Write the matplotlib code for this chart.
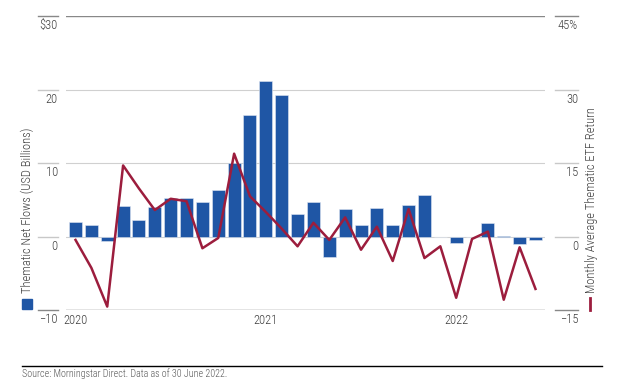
import numpy as np
import matplotlib.pyplot as plt
import matplotlib.transforms as mtransforms
from matplotlib.lines import Line2D
from matplotlib.patches import Rectangle

plt.rcParams['font.family'] = ['Roboto Condensed', 'Archivo Narrow', 'DejaVu Sans']
plt.rcParams['font.weight'] = 'light'

# Данные: январь 2020 - июнь 2022
months = list(range(30))
flows = [1.95, 1.5, -0.6, 4.2, 2.2, 4.0, 5.3, 5.2, 4.7, 6.35,
         10.0, 16.5, 21.2, 19.2, 3.1, 4.75, -2.8, 3.7, 1.5, 3.85,
         1.5, 4.35, 5.7, 0.0, -0.9, 0.0, 1.85, 0.1, -1.0, -0.5]
returns = [-0.7, -6.4, -14.3, 14.5, 9.8, 5.4, 7.7, 7.2, -2.4, -0.3,
           16.9, 8.2, 5.0, 1.6, -2.0, 2.8, -0.7, 3.9, -2.7, 2.0,
           -5.0, 5.6, -4.4, -2.0, -12.5, -0.5, 1.0, -12.9, -2.2, -10.7]
year_pos = [0, 12, 24]
year_labels = ['2020', '2021', '2022']
left_ticks = [30, 20, 10, 0, -10]
left_labels = ['$30', '20', '10', '0', '\u221210']
right_ticks = [45, 30, 15, 0, -15]
right_labels = ['45%', '30', '15', '0', '\u221215']

blue = '#1f56a5'
red = '#9c1d3d'
txt = '#3f3f3f'

W, H = 626, 388
fig = plt.figure(figsize=(W / 100, H / 100), dpi=100)
ax = fig.add_axes([66 / W, 1 - 310 / H, (545 - 66) / W, (310 - 16) / H])
ax.set_xlim(-0.6, 29.6)
ax.set_ylim(-10, 30)

# сетка
for v in [20, 10, 0]:
    ax.axhline(v, color='#d0d0d0', lw=0.8, zorder=0)
ax.axhline(30, color='#888888', lw=1.0, zorder=0)
ax.axhline(-10, color='#777777', lw=1.0, zorder=0)

ax.bar(months, flows, width=0.82, color=blue, edgecolor='#dfe7f2', lw=0.4, zorder=2)

ax2 = ax.twinx()
ax2.set_ylim(-15, 45)
ax2.plot(months, returns, color=red, lw=1.8, zorder=3)

for a in (ax, ax2):
    a.set_xticks([])
    a.set_yticks([])
    for s in a.spines.values():
        s.set_visible(False)

# ручные подписи осей
tl = mtransforms.blended_transform_factory(ax.transAxes, ax.transData)
for v, lab in zip(left_ticks, left_labels):
    c = '#888888' if v in (30, -10) else '#c8c8c8'
    ax.add_line(Line2D([-0.058, -0.017], [v, v], transform=tl, color=c, lw=1.0, clip_on=False))
    ax.annotate(lab, xy=(-0.017, v), xycoords=tl, xytext=(0, -2.5), textcoords='offset points',
                ha='right', va='top', fontsize=9, color=txt, annotation_clip=False)

tr = mtransforms.blended_transform_factory(ax2.transAxes, ax2.transData)
for v, lab in zip(right_ticks, right_labels):
    c = '#888888' if v in (45, -15) else '#c8c8c8'
    ax2.add_line(Line2D([1.021, 1.069], [v, v], transform=tr, color=c, lw=1.0, clip_on=False))
    ax2.annotate(lab, xy=(1.069, v), xycoords=tr, xytext=(0, -2.5), textcoords='offset points',
                 ha='right', va='top', fontsize=9, color=txt, annotation_clip=False)

tx = mtransforms.blended_transform_factory(ax.transData, ax.transAxes)
for p, lab in zip(year_pos, year_labels):
    ax.text(p, -0.012, lab, transform=tx, ha='center', va='top', fontsize=9, color=txt)

# подписи осей с маркерами легенды
fig.text(27.5 / W, 1 - 293 / H, 'Thematic Net Flows (USD Billions)', rotation=90,
         ha='center', va='bottom', fontsize=9, color=txt)
fig.patches.append(Rectangle((22 / W, 1 - 309 / H), 10 / W, 10 / H,
                             transform=fig.transFigure, color=blue))
fig.text(592 / W, 1 - 293 / H, 'Monthly Average Thematic ETF Return', rotation=90,
         ha='center', va='bottom', fontsize=9, color=txt)
fig.lines.append(Line2D([590 / W, 590 / W], [1 - 298 / H, 1 - 310 / H],
                        transform=fig.transFigure, color=red, lw=2))

# источник
fig.lines.append(Line2D([22 / W, 602 / W], [1 - 366 / H, 1 - 366 / H],
                        transform=fig.transFigure, color='black', lw=1.0))
fig.text(22 / W, 1 - 374 / H, 'Source: Morningstar Direct. Data as of 30 June 2022.',
         ha='left', va='center', fontsize=7.2, color='#555555')

fig.savefig('out.png', dpi=100)
